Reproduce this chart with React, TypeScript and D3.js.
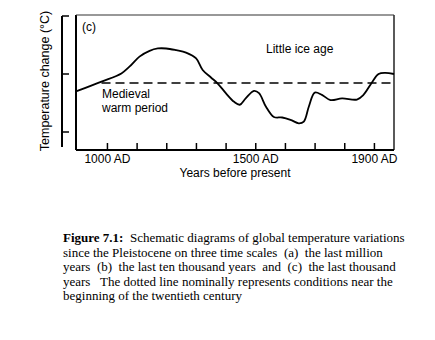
import React from "react";
import * as d3 from "d3";

const years = [894, 980, 1047, 1075, 1108, 1142, 1170, 1198, 1232, 1265, 1299, 1321, 1349, 1371, 1399, 1427, 1446, 1466, 1494, 1511, 1534, 1561, 1589, 1617, 1645, 1662, 1679, 1699, 1723, 1752, 1791, 1841, 1863, 1891, 1914, 1936, 1966];
const temps = [-0.3, -0.13, 0.01, 0.13, 0.3, 0.4, 0.44, 0.44, 0.41, 0.37, 0.27, 0.07, -0.06, -0.16, -0.33, -0.48, -0.53, -0.42, -0.29, -0.33, -0.56, -0.74, -0.75, -0.79, -0.85, -0.82, -0.56, -0.32, -0.36, -0.45, -0.42, -0.44, -0.36, -0.15, 0.0, 0.02, 0.0];
const referenceLevel = -0.155;
const referenceStart = 980;
const xTickYears = [1000, 1100, 1200, 1300, 1400, 1500, 1600, 1700, 1800, 1900];
const xTickLabels: Record<number, string> = { 1000: "1000 AD", 1500: "1500 AD", 1900: "1900 AD" };
const yTickValues = [1, 0, -1];
const captionLines = [
  "since the Pleistocene on three time scales  (a)  the last million",
  "years  (b)  the last ten thousand years  and  (c)  the last thousand",
  "years   The dotted line nominally represents conditions near the",
  "beginning of the twentieth century",
];

export default function App() {
  const W = 435, H = 340;
  const left = 76, right = 394, top = 15, bottom = 150;
  const x = d3.scaleLinear().domain([894, 1966]).range([left, right]);
  const y = d3.scaleLinear().domain([-1, 1]).range([132, 16]);
  const pts: [number, number][] = years.map((yr, i) => [x(yr), y(temps[i])]);
  const line = d3.line().curve(d3.curveCatmullRom.alpha(0.5))(pts) || "";
  const sans = "'Liberation Sans', Arial, Helvetica, sans-serif";
  const serif = "'Liberation Serif', 'Times New Roman', serif";
  return (
    <svg width={W} height={H} style={{ position: "absolute", left: 0, top: 0, background: "#fff" }}>
      {/* frame */}
      <line x1={left} x2={left} y1={top} y2={bottom} stroke="#000" strokeWidth={2} />
      <line x1={left} x2={right} y1={bottom} y2={bottom} stroke="#000" strokeWidth={2} />
      <line x1={right} x2={right} y1={top} y2={bottom} stroke="#000" strokeWidth={1.3} />
      <line x1={left} x2={right} y1={top} y2={top} stroke="#333" strokeWidth={1.1} />
      {/* y axis */}
      <line x1={62} x2={62} y1={y(1)} y2={147} stroke="#000" strokeWidth={2} />
      {yTickValues.map((v) => (
        <line key={v} x1={62} x2={69} y1={y(v)} y2={y(v)} stroke="#000" strokeWidth={1.5} />
      ))}
      <text transform={`translate(49,${(12 + 150) / 2}) rotate(-90)`} textAnchor="middle" fontFamily={sans} fontSize={12.5} fill="#000">
        Temperature change (°C)
      </text>
      {/* x ticks */}
      {xTickYears.map((yr) => (
        <line key={yr} x1={x(yr)} x2={x(yr)} y1={bottom} y2={bottom - 7} stroke="#000" strokeWidth={1.5} />
      ))}
      {xTickYears.filter((yr) => xTickLabels[yr]).map((yr) => (
        <text key={yr} x={x(yr)} y={163} textAnchor="middle" fontFamily={sans} fontSize={12} fill="#000">
          {xTickLabels[yr]}
        </text>
      ))}
      <text x={235} y={177} textAnchor="middle" fontFamily={sans} fontSize={12} fill="#000">
        Years before present
      </text>
      {/* reference dashed line */}
      <line x1={x(referenceStart)} x2={right} y1={y(referenceLevel)} y2={y(referenceLevel)} stroke="#000" strokeWidth={1.4} strokeDasharray="9,5" />
      {/* curve */}
      <path d={line} fill="none" stroke="#000" strokeWidth={1.8} strokeLinejoin="round" />
      {/* annotations */}
      <text x={82} y={31} fontFamily={sans} fontSize={12} fill="#000">(c)</text>
      <text x={266} y={53} fontFamily={sans} fontSize={12} fill="#000">Little ice age</text>
      <text x={102} y={98} fontFamily={sans} fontSize={12} fill="#000">Medieval</text>
      <text x={102} y={111.5} fontFamily={sans} fontSize={12} fill="#000">warm period</text>
      {/* caption */}
      <text x={63} y={242} fontFamily={serif} fontSize={13} fill="#000" style={{ whiteSpace: "pre" }}>
        <tspan fontWeight="bold">Figure 7.1:</tspan>
        <tspan>{"  Schematic diagrams of global temperature variations"}</tspan>
      </text>
      {captionLines.map((t, i) => (
        <text key={i} x={63} y={256.5 + i * 14.5} fontFamily={serif} fontSize={13} fill="#000" style={{ whiteSpace: "pre" }}>
          {t}
        </text>
      ))}
    </svg>
  );
}
